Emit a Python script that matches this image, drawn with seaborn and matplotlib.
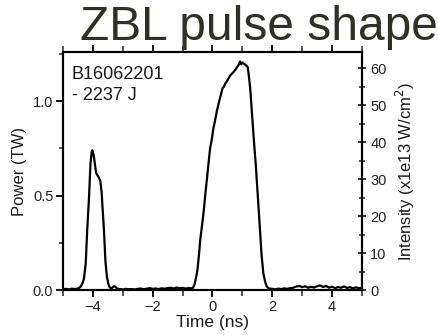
import matplotlib
matplotlib.use("Agg")
import matplotlib.pyplot as plt
from matplotlib.ticker import MultipleLocator
import seaborn as sns
import pandas as pd

# Measured laser pulse: time (ns) vs power (TW)
time_ns = [
    -5.0, -4.9, -4.8, -4.7, -4.6, -4.5, -4.45,
    -4.40, -4.35, -4.30, -4.24, -4.19, -4.13, -4.08, -4.04, -4.02, -3.99,
    -3.96, -3.92, -3.89, -3.84, -3.80, -3.75, -3.71, -3.67, -3.63, -3.58,
    -3.53, -3.48, -3.44, -3.40, -3.35, -3.30, -3.25, -3.20,
    -3.1, -3.0, -2.9, -2.8, -2.7, -2.6, -2.5, -2.4, -2.3, -2.2, -2.1, -2.0,
    -1.9, -1.8, -1.7, -1.6, -1.5, -1.4, -1.3, -1.2, -1.1, -1.0, -0.9, -0.8,
    -0.7,
    -0.65, -0.60, -0.55, -0.50, -0.45, -0.41, -0.35, -0.30, -0.25, -0.19,
    -0.13, -0.08, -0.02, 0.03, 0.09, 0.15, 0.21, 0.26, 0.31, 0.34, 0.38,
    0.42, 0.50, 0.59, 0.68, 0.76, 0.82, 0.87, 0.92, 0.96, 1.00, 1.03, 1.08,
    1.12, 1.18, 1.22, 1.26, 1.30, 1.35, 1.40, 1.45, 1.50, 1.55, 1.59, 1.64,
    1.70, 1.76, 1.81, 1.86, 1.9,
    2.0, 2.1, 2.2, 2.3, 2.4, 2.5, 2.6, 2.7, 2.8, 2.9, 3.0, 3.1, 3.2, 3.3,
    3.4, 3.5, 3.6, 3.7, 3.8, 3.9, 4.0, 4.1, 4.2, 4.3, 4.4, 4.5, 4.6, 4.7,
    4.8, 4.9, 5.0,
]
power_tw = [
    0.004, 0.006, 0.003, 0.007, 0.005, 0.008, 0.012,
    0.02, 0.035, 0.06, 0.14, 0.317, 0.49, 0.67, 0.73, 0.74, 0.725,
    0.70, 0.65, 0.62, 0.605, 0.595, 0.575, 0.52, 0.42, 0.317, 0.15,
    0.07, 0.03, 0.015, 0.01, 0.012, 0.02, 0.018, 0.008,
    0.005, 0.003, 0.006, 0.004, 0.005, 0.003, 0.006, 0.008, 0.004, 0.007, 0.01, 0.006,
    0.008, 0.005, 0.009, 0.007, 0.01, 0.012, 0.008, 0.013, 0.009, 0.011, 0.008, 0.01,
    0.009,
    0.012, 0.03, 0.065, 0.11, 0.19, 0.265, 0.34, 0.406, 0.49, 0.58,
    0.67, 0.75, 0.80, 0.855, 0.90, 0.95, 0.99, 1.02, 1.05, 1.07, 1.075,
    1.09, 1.11, 1.135, 1.15, 1.165, 1.18, 1.19, 1.21, 1.195, 1.205, 1.20, 1.195,
    1.19, 1.18, 1.13, 1.07, 0.98, 0.87, 0.76, 0.66, 0.54, 0.42, 0.317, 0.19,
    0.09, 0.045, 0.02, 0.012, 0.008,
    0.006, 0.004, 0.007, 0.005, 0.009, 0.006, 0.01, 0.012, 0.018, 0.022, 0.015, 0.02, 0.012, 0.017,
    0.013, 0.02, 0.024, 0.016, 0.022, 0.012, 0.018, 0.01, 0.016, 0.012, 0.019, 0.011, 0.015, 0.009,
    0.014, 0.01, 0.012,
]

shot_label = "B16062201\n- 2237 J"
title_text = "ZBL pulse shape"

sns.set_style("ticks")
plt.rcParams["font.family"] = ["Liberation Sans", "DejaVu Sans"]

df = pd.DataFrame({"time": time_ns, "power": power_tw})

fig = plt.figure(figsize=(4.39, 3.35), dpi=100)
ax = fig.add_axes([0.1435, 0.1343, 0.681, 0.7105])

sns.lineplot(data=df, x="time", y="power", ax=ax, color="black", linewidth=1.6)

x_lo, x_hi = -5.0, 5.0
p_lo, p_hi = 0.0, 1.26
tw_to_intensity = 51.15

ax.set_xlim(x_lo, x_hi)
ax.set_ylim(p_lo, p_hi)
ax.set_xlabel("Time (ns)", fontsize=12.5, labelpad=1, color="#1a1a1a")
ax.set_ylabel("Power (TW)", fontsize=12, labelpad=4, color="#1a1a1a")

ax.xaxis.set_major_locator(MultipleLocator(2))
ax.xaxis.set_minor_locator(MultipleLocator(1))
ax.yaxis.set_major_locator(MultipleLocator(0.5))
ax.yaxis.set_minor_locator(MultipleLocator(0.25))
ax.tick_params(axis="both", which="major", labelsize=10.5, length=5, width=1.3,
               colors="black", labelcolor="#222222", pad=2)
ax.tick_params(axis="both", which="minor", length=3, width=1.1)
ax.tick_params(axis="x", which="both", top=True, direction="out")
ax.tick_params(axis="x", which="minor", top=True, length=4)

ax2 = ax.twinx()
ax2.set_ylim(p_lo * tw_to_intensity, p_hi * tw_to_intensity)
ax2.yaxis.set_major_locator(MultipleLocator(10))
ax2.yaxis.set_minor_locator(MultipleLocator(5))
ax2.tick_params(axis="y", which="major", direction="inout", length=6, width=1.3,
                labelsize=10.5, labelcolor="#222222", pad=3)
ax2.tick_params(axis="y", which="minor", direction="inout", length=4, width=1.1)
ax2.set_ylabel("Intensity (x1e13 W/cm$^2$)", fontsize=12, labelpad=5, color="#1a1a1a")

for a in (ax, ax2):
    for s in a.spines.values():
        s.set_visible(True)
        s.set_linewidth(1.5)
        s.set_color("black")

ax.text(0.03, 0.94, shot_label, transform=ax.transAxes, fontsize=13,
        va="top", ha="left", color="#1a1a1a", linespacing=1.25)

fig.text(0.589, 1 - 40 / 335, title_text, fontsize=34.5, ha="center",
         va="baseline", color="#303026")

fig.savefig("out.png", dpi=100)
